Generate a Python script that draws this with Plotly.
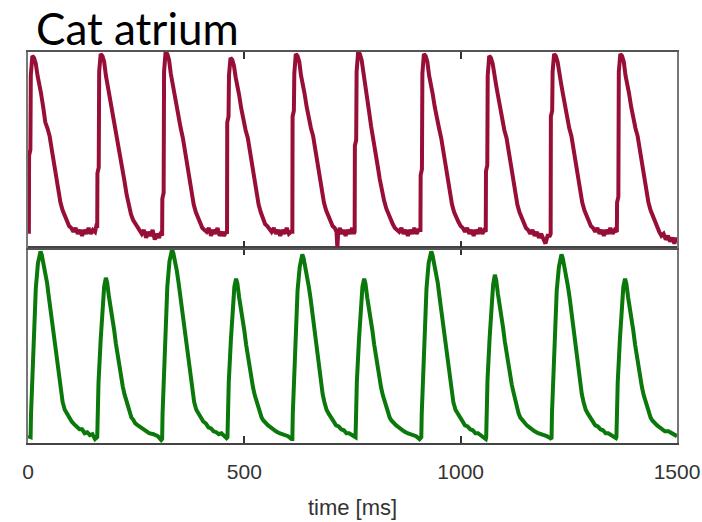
import plotly.graph_objects as go

# ---- data ----
red_time = [
    0, 2, 2.5, 5.5, 6.5, 10, 14, 18, 22, 26, 30, 35, 40, 45, 50, 55, 60, 65, 70, 75, 80, 85, 90, 95, 100, 105, 110, 115, 120, 125, 130, 135, 140, 145, 150, 155, 159,
    160, 160.5, 163.5, 164.5, 168, 172, 176, 180, 184, 188, 193, 198, 203, 208, 213, 218, 223, 228, 233, 238, 243, 248, 253, 258, 263, 268, 273, 278, 283, 288, 293, 298, 303, 308,
    310, 310.5, 313.5, 314.5, 318, 322, 326, 330, 334, 338, 343, 348, 353, 358, 363, 368, 373, 378, 383, 388, 393, 398, 403, 408, 413, 418, 423, 428, 433, 438, 443, 448, 453, 458,
    460, 460.5, 463.5, 464.5, 468, 472, 476, 480, 484, 488, 493, 498, 503, 508, 513, 518, 523, 528, 533, 538, 543, 548, 553, 558, 563, 568, 573, 578, 583, 588, 593, 598, 603, 608,
    611, 611.5, 614.5, 615.5, 619, 623, 627, 631, 635, 639, 644, 649, 654, 659, 664, 669, 674, 679, 684, 689, 694, 699, 704, 709, 713, 715, 717, 721, 725, 729, 734, 739, 744, 749, 753,
    755, 755.5, 758.5, 759.5, 763, 767, 771, 775, 779, 783, 788, 793, 798, 803, 808, 813, 818, 823, 828, 833, 838, 843, 848, 853, 858, 863, 868, 873, 878, 883, 888, 893, 898, 903,
    907, 907.5, 910.5, 911.5, 915, 919, 923, 927, 931, 935, 940, 945, 950, 955, 960, 965, 970, 975, 980, 985, 990, 995, 1000, 1005, 1010, 1015, 1020, 1025, 1030, 1035, 1040, 1045, 1050, 1055,
    1058, 1058.5, 1061.5, 1062.5, 1066, 1070, 1074, 1078, 1082, 1086, 1091, 1096, 1101, 1106, 1111, 1116, 1121, 1126, 1131, 1136, 1141, 1146, 1151, 1156, 1161, 1166, 1171, 1176, 1181, 1186, 1191, 1196, 1201, 1206,
    1208, 1208.5, 1211.5, 1212.5, 1216, 1220, 1224, 1228, 1232, 1236, 1241, 1246, 1251, 1256, 1261, 1266, 1271, 1276, 1281, 1286, 1291, 1296, 1301, 1306, 1311, 1316, 1321, 1326, 1331, 1336, 1341, 1346, 1351, 1356,
    1361, 1361.5, 1364.5, 1365.5, 1369, 1373, 1377, 1381, 1385, 1389, 1394, 1399, 1404, 1409, 1414, 1419, 1424, 1429, 1434, 1439, 1444, 1449, 1454, 1459, 1464, 1469, 1474, 1479, 1484, 1489, 1494, 1498, 1500,
]
red_value = [
    0.08, 0.08, 0.47, 0.50, 0.88, 0.98, 0.97, 0.94, 0.88, 0.84, 0.79, 0.72, 0.64, 0.61, 0.57, 0.50, 0.43, 0.36, 0.29, 0.23, 0.19, 0.16, 0.13, 0.11, 0.10, 0.08, 0.10, 0.07, 0.09, 0.06, 0.09, 0.07, 0.10, 0.07, 0.09, 0.08, 0.12,
    0.10, 0.38, 0.41, 0.90, 0.99, 0.98, 0.95, 0.88, 0.83, 0.78, 0.71, 0.65, 0.60, 0.55, 0.48, 0.41, 0.34, 0.27, 0.21, 0.17, 0.14, 0.12, 0.10, 0.09, 0.07, 0.09, 0.05, 0.08, 0.06, 0.09, 0.04, 0.07, 0.05, 0.08,
    0.06, 0.25, 0.28, 0.90, 1.00, 0.99, 0.96, 0.89, 0.84, 0.79, 0.72, 0.65, 0.61, 0.56, 0.49, 0.42, 0.35, 0.28, 0.22, 0.18, 0.15, 0.12, 0.10, 0.09, 0.08, 0.10, 0.06, 0.09, 0.07, 0.10, 0.06, 0.08, 0.06, 0.08,
    0.07, 0.64, 0.67, 0.88, 0.97, 0.96, 0.93, 0.87, 0.83, 0.78, 0.71, 0.64, 0.60, 0.56, 0.49, 0.42, 0.35, 0.28, 0.22, 0.18, 0.15, 0.12, 0.11, 0.09, 0.08, 0.10, 0.07, 0.09, 0.06, 0.09, 0.07, 0.10, 0.07, 0.08,
    0.08, 0.67, 0.70, 0.89, 0.99, 0.98, 0.95, 0.88, 0.84, 0.79, 0.72, 0.65, 0.61, 0.57, 0.50, 0.43, 0.36, 0.29, 0.23, 0.19, 0.16, 0.13, 0.11, 0.10, 0.08, 0.0, 0.08, 0.10, 0.07, 0.09, 0.06, 0.09, 0.07, 0.10, 0.07,
    0.08, 0.52, 0.55, 0.90, 1.00, 0.99, 0.96, 0.89, 0.84, 0.78, 0.70, 0.62, 0.56, 0.50, 0.42, 0.35, 0.29, 0.24, 0.20, 0.17, 0.15, 0.12, 0.10, 0.09, 0.08, 0.10, 0.07, 0.09, 0.06, 0.09, 0.07, 0.10, 0.07, 0.09,
    0.09, 0.37, 0.40, 0.89, 0.99, 0.98, 0.95, 0.88, 0.84, 0.79, 0.72, 0.65, 0.61, 0.56, 0.49, 0.42, 0.35, 0.28, 0.22, 0.18, 0.15, 0.13, 0.11, 0.10, 0.08, 0.10, 0.07, 0.09, 0.06, 0.09, 0.07, 0.10, 0.07, 0.09,
    0.08, 0.39, 0.42, 0.88, 0.98, 0.97, 0.94, 0.87, 0.83, 0.78, 0.71, 0.64, 0.60, 0.56, 0.49, 0.42, 0.35, 0.28, 0.22, 0.18, 0.15, 0.12, 0.10, 0.09, 0.07, 0.09, 0.06, 0.08, 0.05, 0.07, 0.04, 0.02, 0.06, 0.06,
    0.07, 0.67, 0.70, 0.90, 0.99, 0.98, 0.95, 0.88, 0.84, 0.79, 0.72, 0.65, 0.61, 0.57, 0.50, 0.43, 0.36, 0.29, 0.23, 0.19, 0.16, 0.13, 0.11, 0.10, 0.08, 0.10, 0.07, 0.09, 0.06, 0.09, 0.07, 0.10, 0.07, 0.09,
    0.08, 0.23, 0.26, 0.90, 0.99, 0.98, 0.95, 0.88, 0.84, 0.79, 0.72, 0.65, 0.61, 0.57, 0.50, 0.43, 0.36, 0.29, 0.23, 0.19, 0.16, 0.13, 0.10, 0.08, 0.06, 0.07, 0.04, 0.06, 0.03, 0.05, 0.02, 0.05, 0.03,
]

green_time = [
    0, 6, 7, 10, 14, 18, 23, 27, 29, 32, 36, 40, 44, 48, 52, 56, 60, 64, 68, 72, 76, 80, 85, 90, 95, 101, 107, 113, 119, 125, 131, 137, 143, 149, 155,
    160, 161, 163, 168, 172, 176, 180, 183, 187, 191, 195, 199, 203, 207, 211, 215, 219, 223, 227, 231, 235, 239, 243, 248, 254, 260, 265, 272, 280, 290, 300, 308,
    310, 311, 314, 318, 322, 327, 331, 333, 336, 340, 344, 348, 352, 356, 360, 364, 368, 372, 376, 380, 384, 389, 394, 399, 405, 411, 417, 423, 429, 435, 441, 447, 453, 459,
    461, 462, 464, 469, 473, 477, 481, 484, 488, 492, 496, 500, 504, 508, 512, 516, 520, 524, 528, 532, 536, 540, 544, 549, 555, 561, 566, 573, 581, 591, 601, 609,
    611, 612, 615, 619, 623, 628, 632, 634, 637, 641, 645, 649, 653, 657, 661, 665, 669, 673, 677, 681, 685, 690, 695, 700, 706, 712, 718, 724, 730, 736, 742, 748, 754,
    757, 758, 760, 765, 769, 773, 777, 780, 784, 788, 792, 796, 800, 804, 808, 812, 816, 820, 824, 828, 832, 836, 840, 845, 851, 857, 862, 869, 877, 887, 897, 905,
    909, 910, 913, 917, 921, 926, 930, 932, 935, 939, 943, 947, 951, 955, 959, 963, 967, 971, 975, 979, 983, 988, 993, 998, 1004, 1010, 1016, 1022, 1028, 1034, 1040, 1046, 1052, 1058,
    1059, 1060, 1062, 1067, 1071, 1075, 1079, 1082, 1086, 1090, 1094, 1098, 1102, 1106, 1110, 1114, 1118, 1122, 1126, 1130, 1134, 1138, 1142, 1147, 1153, 1159, 1164, 1171, 1179, 1189, 1199, 1207,
    1210, 1211, 1214, 1218, 1222, 1227, 1231, 1233, 1236, 1240, 1244, 1248, 1252, 1256, 1260, 1264, 1268, 1272, 1276, 1280, 1284, 1289, 1294, 1299, 1305, 1311, 1317, 1323, 1329, 1335, 1341, 1347, 1353, 1359,
    1360, 1361, 1363, 1368, 1372, 1376, 1380, 1383, 1387, 1391, 1395, 1399, 1403, 1407, 1411, 1415, 1419, 1423, 1427, 1431, 1435, 1439, 1443, 1448, 1454, 1460, 1465, 1472, 1480, 1490, 1500,
]
green_value = [
    0.035, 0.03, 0.15, 0.36, 0.62, 0.79, 0.92, 0.97, 0.98, 0.96, 0.92, 0.87, 0.82, 0.75, 0.68, 0.60, 0.52, 0.45, 0.38, 0.32, 0.26, 0.21, 0.17, 0.15, 0.13, 0.11, 0.095, 0.085, 0.07, 0.07, 0.05, 0.055, 0.04, 0.045, 0.02,
    0.03, 0.12, 0.31, 0.53, 0.70, 0.80, 0.845, 0.82, 0.75, 0.70, 0.655, 0.58, 0.51, 0.45, 0.40, 0.34, 0.29, 0.25, 0.22, 0.18, 0.15, 0.13, 0.12, 0.10, 0.09, 0.08, 0.07, 0.06, 0.05, 0.045, 0.035, 0.015,
    0.02, 0.15, 0.36, 0.62, 0.80, 0.93, 0.98, 0.99, 0.97, 0.93, 0.88, 0.82, 0.75, 0.68, 0.60, 0.52, 0.45, 0.38, 0.32, 0.26, 0.21, 0.17, 0.15, 0.13, 0.11, 0.10, 0.08, 0.075, 0.06, 0.055, 0.045, 0.05, 0.035, 0.025,
    0.03, 0.12, 0.31, 0.53, 0.70, 0.80, 0.84, 0.815, 0.745, 0.695, 0.65, 0.575, 0.505, 0.445, 0.395, 0.335, 0.285, 0.245, 0.215, 0.175, 0.15, 0.13, 0.115, 0.10, 0.09, 0.08, 0.07, 0.06, 0.05, 0.045, 0.035, 0.02,
    0.02, 0.15, 0.35, 0.61, 0.78, 0.90, 0.95, 0.965, 0.945, 0.90, 0.86, 0.80, 0.74, 0.67, 0.59, 0.51, 0.44, 0.37, 0.31, 0.25, 0.21, 0.17, 0.15, 0.13, 0.11, 0.09, 0.085, 0.07, 0.065, 0.05, 0.05, 0.04, 0.03,
    0.03, 0.12, 0.31, 0.53, 0.70, 0.80, 0.84, 0.815, 0.745, 0.695, 0.65, 0.575, 0.505, 0.445, 0.395, 0.335, 0.285, 0.245, 0.215, 0.175, 0.15, 0.13, 0.115, 0.10, 0.09, 0.08, 0.07, 0.06, 0.05, 0.045, 0.035, 0.02,
    0.03, 0.15, 0.36, 0.62, 0.79, 0.92, 0.97, 0.98, 0.96, 0.92, 0.87, 0.82, 0.75, 0.68, 0.60, 0.52, 0.45, 0.38, 0.32, 0.26, 0.21, 0.17, 0.15, 0.13, 0.11, 0.09, 0.085, 0.07, 0.065, 0.05, 0.05, 0.04, 0.035, 0.02,
    0.03, 0.12, 0.32, 0.54, 0.71, 0.81, 0.86, 0.835, 0.765, 0.71, 0.665, 0.59, 0.52, 0.46, 0.41, 0.35, 0.30, 0.26, 0.22, 0.18, 0.15, 0.13, 0.12, 0.10, 0.09, 0.08, 0.07, 0.06, 0.05, 0.045, 0.035, 0.025,
    0.02, 0.15, 0.35, 0.61, 0.78, 0.90, 0.95, 0.965, 0.945, 0.90, 0.86, 0.80, 0.74, 0.67, 0.59, 0.51, 0.44, 0.37, 0.31, 0.25, 0.21, 0.17, 0.15, 0.13, 0.11, 0.09, 0.085, 0.07, 0.065, 0.05, 0.05, 0.04, 0.03, 0.025,
    0.03, 0.12, 0.31, 0.53, 0.70, 0.80, 0.84, 0.815, 0.745, 0.695, 0.65, 0.575, 0.505, 0.445, 0.395, 0.335, 0.285, 0.245, 0.215, 0.175, 0.15, 0.13, 0.115, 0.10, 0.09, 0.08, 0.07, 0.06, 0.06, 0.045, 0.035,
]

x_ticks = [0, 500, 1000, 1500]
x_tick_labels = ["0", "500", "1000", "1500"]
title_text = "Cat atrium"
x_title = "time [ms]"

assert len(red_time) == len(red_value), (len(red_time), len(red_value))
assert len(green_time) == len(green_value), (len(green_time), len(green_value))

RED = "#970f37"
GREEN = "#0a780a"

fig = go.Figure()
fig.add_trace(go.Scatter(x=red_time, y=red_value, mode="lines",
                         line=dict(color=RED, width=4), xaxis="x2", yaxis="y2",
                         showlegend=False, hoverinfo="skip"))
fig.add_trace(go.Scatter(x=green_time, y=green_value, mode="lines",
                         line=dict(color=GREEN, width=4), xaxis="x", yaxis="y",
                         showlegend=False, hoverinfo="skip"))

common_x = dict(range=[0, 1500], tickvals=x_ticks, ticks="inside", ticklen=7,
                tickwidth=1.5, tickcolor="#333333", showgrid=False, zeroline=False,
                showline=True, mirror="ticks", automargin=False)
common_y = dict(range=[0, 1.0], showticklabels=False, ticks="", showgrid=False,
                zeroline=False, showline=True, mirror=True, linecolor="#777777",
                linewidth=1.5, automargin=False)
fig.update_layout(
    width=702, height=522,
    margin=dict(l=28, r=25, t=52, b=79, autoexpand=False),
    paper_bgcolor="white", plot_bgcolor="white",
    xaxis=dict(**common_x, anchor="y", ticktext=x_tick_labels, linecolor="#444444", linewidth=2,
               tickfont=dict(family="Liberation Sans, Arial", size=21, color="#333333"),
               ticklabelstandoff=9,
               title=dict(text=x_title, font=dict(family="Liberation Sans, Arial", size=22, color="#333333"),
                          standoff=17)),
    yaxis=dict(**common_y, domain=[0, 0.5]),
    xaxis2=dict(**common_x, anchor="y2", matches="x", showticklabels=False,
                linecolor="#555555", linewidth=2),
    yaxis2=dict(**common_y, domain=[0.5, 1]),
    annotations=[dict(text=title_text, xref="paper", yref="paper", x=0.009, y=1.062,
                      xanchor="left", yanchor="middle", showarrow=False,
                      font=dict(family="Lato, Open Sans, sans-serif", size=44, color="black"))],
)

fig.write_html("out.html")
